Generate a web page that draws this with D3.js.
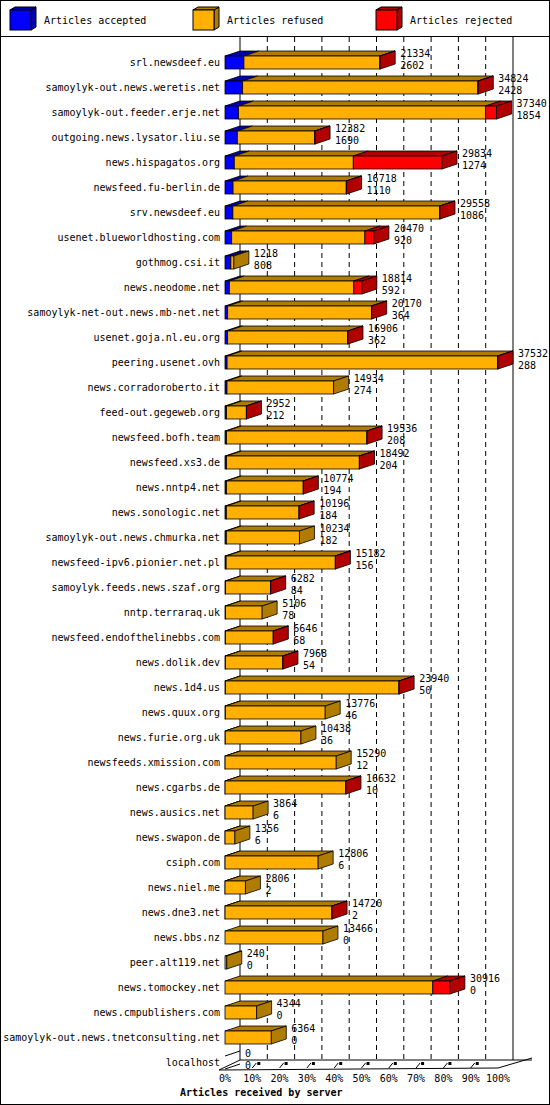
<!DOCTYPE html><html><head><meta charset="utf-8">
<script src="https://cdn.jsdelivr.net/npm/d3@7"></script>
<style>body{margin:0;background:#fff}svg{display:block}text{font-family:"DejaVu Sans Mono",monospace;font-size:10px}</style>
</head><body><svg id="c" width="550" height="1105"></svg>
<script>
const servers=["srl.newsdeef.eu","samoylyk-out.news.weretis.net","samoylyk-out.feeder.erje.net","outgoing.news.lysator.liu.se","news.hispagatos.org","newsfeed.fu-berlin.de","srv.newsdeef.eu","usenet.blueworldhosting.com","gothmog.csi.it","news.neodome.net","samoylyk-net-out.news.mb-net.net","usenet.goja.nl.eu.org","peering.usenet.ovh","news.corradoroberto.it","feed-out.gegeweb.org","newsfeed.bofh.team","newsfeed.xs3.de","news.nntp4.net","news.sonologic.net","samoylyk-out.news.chmurka.net","newsfeed-ipv6.pionier.net.pl","samoylyk.feeds.news.szaf.org","nntp.terraraq.uk","newsfeed.endofthelinebbs.com","news.dolik.dev","news.1d4.us","news.quux.org","news.furie.org.uk","newsfeeds.xmission.com","news.cgarbs.de","news.ausics.net","news.swapon.de","csiph.com","news.niel.me","news.dne3.net","news.bbs.nz","peer.alt119.net","news.tomockey.net","news.cmpublishers.com","samoylyk-out.news.tnetconsulting.net","localhost"];
const offered=[21334,34824,37340,12382,29834,16718,29558,20470,1218,18814,20170,16906,37532,14934,2952,19536,18492,10774,10196,10234,15182,6282,5106,6646,7968,23940,13776,10438,15290,16632,3864,1356,12806,2806,14720,13466,240,30916,4344,6364,0];
const accepted=[2602,2428,1854,1690,1274,1110,1086,920,808,592,364,362,288,274,212,208,204,194,184,182,156,84,78,68,54,50,46,36,12,10,6,6,6,2,2,0,0,0,0,0,0];
const rejected=[40,60,1500,50,12200,50,40,1240,0,1100,30,30,40,0,20,30,30,20,20,0,20,15,0,15,15,30,0,0,0,20,0,0,0,0,20,0,0,2350,0,0,0];
const ticks=["0%","10%","20%","30%","40%","50%","60%","70%","80%","90%","100%"];

const svg=d3.select("#c");
const X0=225,W=273,DX=15,DY=-5,H=13;
const x=d3.scaleLinear().domain([0,d3.max(offered)]).range([X0,X0+W]);
const xp=d3.scaleLinear().domain([0,100]).range([X0,X0+W]);
const y=d3.scaleBand().domain(servers).range([50,50+25*servers.length]).paddingInner(0);
const rowTop=s=>y(s)+6;
const col={a:["#0000ff","#0000b0"],f:["#ffb000","#b07c00"],r:["#ff0000","#b00000"]};

svg.append("rect").attr("x",0.5).attr("y",0.5).attr("width",549).attr("height",1104).attr("fill","#fff").attr("stroke","#000");
svg.append("line").attr("x1",0).attr("x2",550).attr("y1",36.5).attr("y2",36.5).attr("stroke","#000");
const leg=[["Articles accepted","a",10],["Articles refused","f",193],["Articles rejected","r",376]];
leg.forEach(([t,k,lx])=>{
 const g=svg.append("g");
 g.append("path").attr("d",`M${lx+21},${10}l5,-3v20l-5,3z`).attr("fill",col[k][1]).attr("stroke","#000");
 g.append("path").attr("d",`M${lx},${10}l5,-3h21l-5,3z`).attr("fill",col[k][1]).attr("stroke","#000");
 g.append("rect").attr("x",lx).attr("y",10).attr("width",21).attr("height",20).attr("fill",col[k][0]).attr("stroke","#000");
 g.append("text").attr("x",lx+34).attr("y",24).text(t);
});
const yB=1060;
svg.append("line").attr("x1",X0+DX).attr("x2",X0+DX).attr("y1",37).attr("y2",yB).attr("stroke","#000");
svg.append("line").attr("x1",X0+W+DX).attr("x2",X0+W+DX).attr("y1",37).attr("y2",yB).attr("stroke","#000");
for(let k=1;k<10;k++){
 svg.append("line").attr("x1",xp(k*10)+DX).attr("x2",xp(k*10)+DX).attr("y1",37).attr("y2",yB).attr("stroke","#000").attr("stroke-dasharray","5,4");
}
svg.append("line").attr("x1",X0+DX).attr("x2",X0+W+DX+19).attr("y1",yB).attr("y2",yB).attr("stroke","#000");
svg.append("line").attr("x1",X0-6).attr("x2",X0+DX).attr("y1",yB+10).attr("y2",yB).attr("stroke","#000");
svg.append("line").attr("x1",X0+W).attr("x2",X0+W+DX+19).attr("y1",yB+8).attr("y2",yB-2).attr("stroke","#000");
svg.append("line").attr("x1",X0-6).attr("x2",X0+W).attr("y1",yB+10).attr("y2",yB+8).attr("stroke","#000");
ticks.forEach((t,k)=>{
 const fx=xp(k*10);
 if(k>0&&k<10){svg.append("line").attr("x1",fx).attr("x2",fx+4).attr("y1",yB+8).attr("y2",yB+3).attr("stroke","#000");
  svg.append("rect").attr("x",fx+5).attr("y",yB+2).attr("width",3).attr("height",3).attr("fill","#000");}
 svg.append("text").attr("x",fx).attr("y",yB+22).attr("text-anchor","middle").text(t);
});
svg.append("text").attr("x",180).attr("y",1096).style("font-weight","bold").text("Articles received by server");
servers.forEach((s,i)=>{
 const t=rowTop(s);
 svg.append("text").attr("x",220).attr("y",t+10).attr("text-anchor","end").text(s);
 const refused=offered[i]-accepted[i]-rejected[i];
 const segs=[["a",0,accepted[i]],["f",accepted[i],accepted[i]+refused],["r",accepted[i]+refused,offered[i]]].filter(d=>d[2]>d[1]);
 const g=svg.append("g");
 if(offered[i]===0){
  g.append("line").attr("x1",X0).attr("x2",X0+DX).attr("y1",t+H).attr("y2",t+H+DY).attr("stroke","#000");
  g.append("line").attr("x1",X0).attr("x2",X0+DX).attr("y1",t).attr("y2",t+DY).attr("stroke","#000");
 }
 segs.forEach(([k,a,b])=>{
  const x1=x(a),x2=x(b);
  g.append("path").attr("d",`M${x1},${t}L${x1+DX},${t+DY}H${x2+DX}L${x2},${t}Z`).attr("fill",col[k][1]).attr("stroke","#000").attr("stroke-width",0.8);
  g.append("rect").attr("x",x1).attr("y",t).attr("width",x2-x1).attr("height",H).attr("fill",col[k][0]).attr("stroke","#000").attr("stroke-width",0.8);
 });
 if(segs.length){const last=segs[segs.length-1],xe=x(last[2]);
  g.append("path").attr("d",`M${xe},${t}L${xe+DX},${t+DY}V${t+DY+H}L${xe},${t+H}Z`).attr("fill",col[last[0]][1]).attr("stroke","#000").attr("stroke-width",0.8);}
 const tx=x(offered[i])+DX+5;
 svg.append("text").attr("x",tx).attr("y",t+1).text(offered[i]);
 svg.append("text").attr("x",tx).attr("y",t+13).text(accepted[i]);
});
</script></body></html>
